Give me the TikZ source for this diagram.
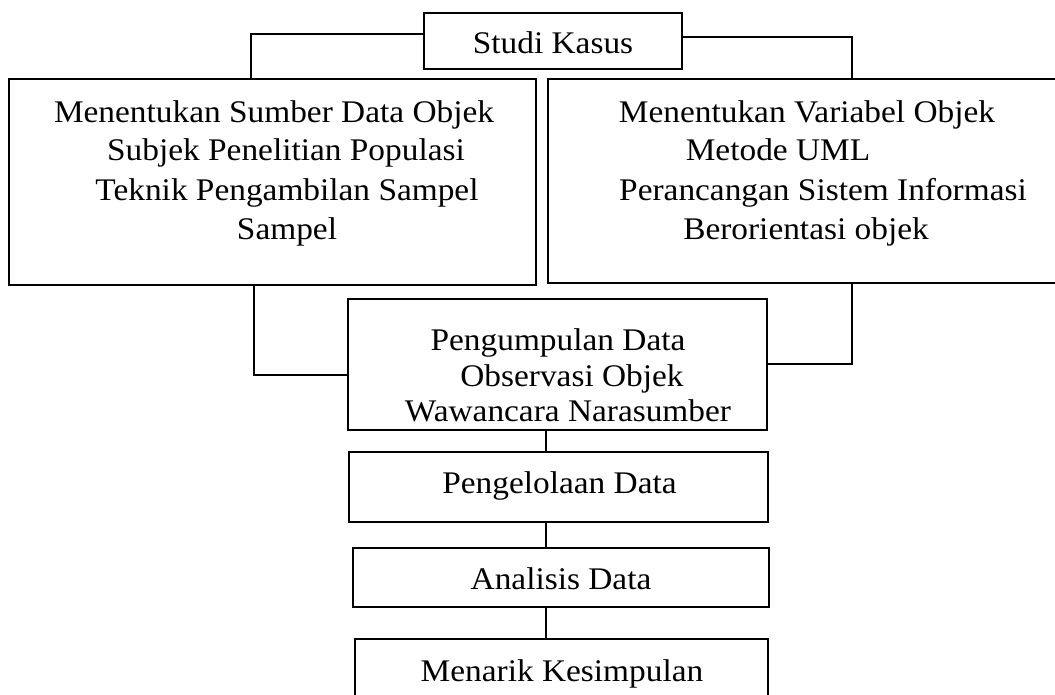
\documentclass[tikz,border=0pt]{standalone}
\usepackage{fontspec}
\setmainfont{Liberation Serif}[FakeStretch=1.06]
\usetikzlibrary{fit}
\begin{document}
\begin{tikzpicture}[x=0.75pt,y=-0.75pt,
  box/.style={draw=black,line width=1.5pt,inner sep=0pt},
  link/.style={draw=black,line width=1.9pt},
  txt/.style={anchor=base,inner sep=0pt,font=\fontsize{23.6}{28}\selectfont}]
\fill[white] (0,0) rectangle (1055,695);
\useasboundingbox (0,0) rectangle (1055,695);
% boxes
\node[box,fit={(424,13) (682,69)}] (studi) {};
\node[box,fit={(9,79) (536,285)}] (left) {};
\node[box,fit={(548,79) (1062,283)}] (right) {};
\node[box,fit={(348,299) (767,430)}] (kumpul) {};
\node[box,fit={(349,452) (768,522)}] (olah) {};
\node[box,fit={(353,548) (769,607)}] (analisis) {};
\node[box,fit={(355,639) (768,705)}] (simpul) {};
% texts
\node[txt] (tS) at (553,54) {Studi Kasus};
\node[txt] (tL1) at (274,123) {Menentukan Sumber Data Objek};
\node[txt] (tL2) at (286,161) {Subjek Penelitian Populasi};
\node[txt] (tL3) at (287,200) {Teknik Pengambilan Sampel};
\node[txt] (tL4) at (287,239) {Sampel};
\node[txt] (tR1) at (807,123) {Menentukan Variabel Objek};
\node[txt] (tR2) at (778,161) {Metode UML};
\node[txt] (tR3) at (823,200) {Perancangan Sistem Informasi};
\node[txt] (tR4) at (806,239) {Berorientasi objek};
\node[txt] (tK1) at (558,350) {Pengumpulan Data};
\node[txt] (tK2) at (572,386) {Observasi Objek};
\node[txt] (tK3) at (568,421) {Wawancara Narasumber};
\node[txt] (tO) at (559.5,493) {Pengelolaan Data};
\node[txt] (tA) at (561,589) {Analisis Data};
\node[txt] (tM) at (562,681) {Menarik Kesimpulan};
% connectors
\coordinate (b1) at (251,34);
\coordinate (b2) at (852,37);
\coordinate (b3) at (254,375);
\coordinate (b4) at (852,364);
\coordinate (c) at (546,0);
\draw[link] (studi.west |- b1) -- (b1) -- (b1 |- left.north);
\draw[link] (studi.east |- b2) -- (b2) -- (b2 |- right.north);
\draw[link] (b3 |- left.south) -- (b3) -- (b3 -| kumpul.west);
\draw[link] (b4 |- right.south) -- (b4) -- (b4 -| kumpul.east);
\draw[link] (c |- kumpul.south) -- (c |- olah.north);
\draw[link] (c |- olah.south) -- (c |- analisis.north);
\draw[link] (c |- analisis.south) -- (c |- simpul.north);
\end{tikzpicture}
\end{document}
